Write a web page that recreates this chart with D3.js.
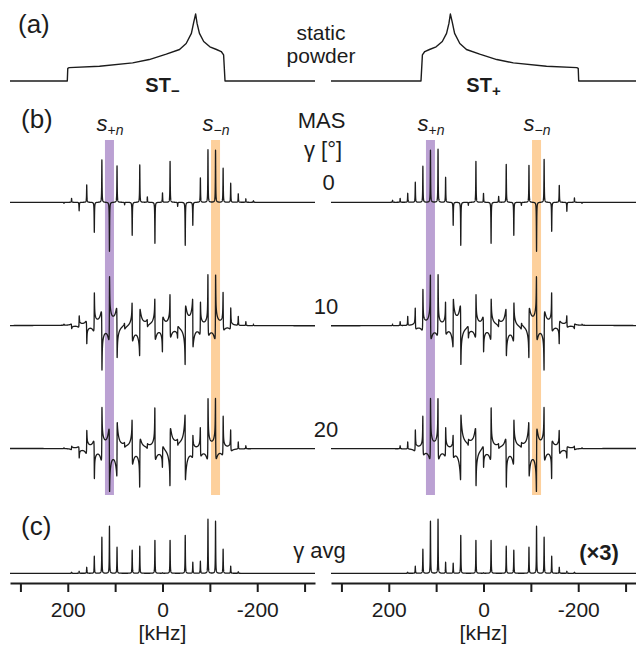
<!DOCTYPE html>
<html>
<head>
<meta charset="utf-8">
<script src="https://cdn.jsdelivr.net/npm/d3@7"></script>
<style>
  html, body { margin: 0; padding: 0; background: #fff; }
  svg { display: block; font-family: "Liberation Sans", Arial, Helvetica, sans-serif; }
</style>
</head>
<body>
<svg id="fig" width="636" height="648"></svg>
<script>
// ---- data -------------------------------------------------------------
const spinRate = 16;                 // MAS rate, kHz (sideband spacing)
const gammaAngles = [0, 10, 20];     // rotor phase of the three MAS traces
const xTicks = [300, 200, 100, 0, -100, -200, -300];
const xTickLabels = { "200": "200", "0": "0", "-200": "-200" };
const markedOrders = [7, -7];        // s+n and s-n sidebands
const markHalfWidth = 9.5;           // kHz

// static powder patterns: [frequency kHz, intensity %]
const staticMinus = [[322,0],[201,0],[200,19],[197,20],[133,22],[63,27],[28,32],[-8,40],[-36,47],[-50,56],[-61,71],[-66,88],[-70,100],[-73,86],[-78,71],[-87,59],[-100,51],[-114,47],[-124,44],[-129,39],[-132,0],[-322,0]];
const staticPlus  = [[322,0],[132,0],[129,39],[124,44],[114,47],[100,51],[87,59],[78,71],[73,86],[70,100],[66,88],[61,71],[50,56],[36,47],[8,40],[-28,32],[-63,27],[-133,22],[-197,20],[-200,19],[-201,0],[-322,0]];

// MAS sidebands: [order n, top, bottom, dispersive tail sign]
const stMinusG0 = [[13,0,-2,0],[12,8,0,0],[11,0,-17,0],[10,35,0,0],[9,0,-60,0],[8,85,0,0],[7,0,-98,0],[6,73,0,0],[5,0,-5,0],[4,0,-66,0],[3,75,0,0],[2,11,0,0],[1,0,-82,0],[0,19,0,0],[-1,82,0,0],[-2,0,-8,0],[-3,0,-86,0],[-4,0,-46,0],[-5,49,0,0],[-6,105,0,0],[-7,104,0,0],[-8,68,0,0],[-9,38,0,0],[-10,17,0,0],[-11,7,0,0],[-12,3,0,0]];
const stMinusG10 = [[13,2,0,0],[12,2,-6,-1],[11,18,-2,1],[10,4,-36,-1],[9,62,-6,1],[8,16,-86,-1],[7,94,-16,1],[6,20,-66,-1],[5,6,-4,-1],[4,50,-16,-1],[3,28,-52,1],[2,6,-6,-1],[1,54,-16,-1],[0,12,-48,1],[-1,62,-12,-1],[-2,4,-16,1],[-3,24,-78,1],[-4,44,-38,-1],[-5,48,-8,1],[-6,104,-6,-1],[-7,102,-12,1],[-8,64,-4,-1],[-9,36,-2,1],[-10,18,0,0],[-11,8,0,0],[-12,3,0,0]];
const stMinusG20 = [[13,2,0,0],[12,4,-2,1],[11,2,-18,-1],[10,34,-6,1],[9,8,-58,-1],[8,78,-14,1],[7,28,-80,-1],[6,48,-44,1],[5,4,-4,-1],[4,56,-20,-1],[3,12,-72,1],[2,4,-4,1],[1,82,-10,-1],[0,6,-30,1],[-1,24,-76,1],[-2,4,-6,-1],[-3,58,-54,-1],[-4,30,-8,1],[-5,44,-6,-1],[-6,98,-10,1],[-7,98,-10,-1],[-8,66,-4,1],[-9,36,-2,-1],[-10,14,0,0],[-11,6,0,0]];
const stMinusAvg = [[12,2],[11,4],[10,12],[9,34],[8,72],[7,94],[6,52],[4,46],[3,54],[1,66],[0,1],[-1,66],[-3,76],[-4,22],[-5,24],[-6,108],[-7,104],[-8,48],[-9,14],[-10,3]];

const stPlusG0 = [[12,4,0,0],[11,8,0,0],[10,18,0,0],[9,40,0,0],[8,72,0,0],[7,104,0,0],[6,106,0,0],[5,50,0,0],[4,0,-46,0],[3,0,-86,0],[2,0,-6,0],[1,82,0,0],[0,18,0,0],[-1,0,-82,0],[-2,12,0,0],[-3,76,0,0],[-4,0,-66,0],[-5,0,-6,0],[-6,74,0,0],[-7,0,-98,0],[-8,86,0,0],[-9,0,-58,0],[-10,34,0,0],[-11,0,-18,0],[-12,9,0,0],[-13,0,-2,0]];
const stPlusG10 = [[12,3,0,0],[11,8,0,0],[10,18,0,0],[9,36,-2,-1],[8,70,-4,1],[7,102,-12,-1],[6,104,-6,1],[5,48,-8,-1],[4,44,-38,1],[3,24,-78,-1],[2,4,-16,-1],[1,62,-12,1],[0,12,-48,-1],[-1,54,-16,1],[-2,6,-6,1],[-3,28,-52,-1],[-4,50,-16,1],[-5,6,-4,1],[-6,20,-66,1],[-7,94,-16,-1],[-8,16,-86,1],[-9,62,-6,-1],[-10,4,-36,1],[-11,18,-2,-1],[-12,2,-6,1],[-13,2,0,0]];
const stPlusG20 = [[11,6,0,0],[10,14,0,0],[9,36,-2,1],[8,66,-4,-1],[7,98,-10,1],[6,98,-10,-1],[5,44,-6,1],[4,30,-8,-1],[3,58,-54,1],[2,4,-6,1],[1,24,-76,-1],[0,6,-30,-1],[-1,82,-10,1],[-2,4,-4,-1],[-3,12,-72,-1],[-4,56,-20,1],[-5,4,-4,1],[-6,48,-44,-1],[-7,28,-80,1],[-8,78,-14,-1],[-9,8,-58,1],[-10,34,-6,-1],[-11,2,-18,1],[-12,4,-2,-1],[-13,2,0,0]];
const stPlusAvg = [[10,2],[9,14],[8,48],[7,104],[6,108],[5,22],[4,20],[3,76],[1,66],[0,1],[-1,66],[-3,54],[-4,46],[-6,52],[-7,94],[-8,72],[-9,34],[-10,12],[-11,4],[-12,2]];

// ---- layout -----------------------------------------------------------
const ink = "#1c1c1c";
const panels = [
  { range: [10, 315],  stat: staticMinus, rows: [stMinusG0, stMinusG10, stMinusG20], avg: stMinusAvg, sub: "\u2212" },
  { range: [331, 636], stat: staticPlus,  rows: [stPlusG0,  stPlusG10,  stPlusG20],  avg: stPlusAvg,  sub: "+" }
];
const staticBase = 81, rowBase = [202.3, 325.7, 448.5], avgBase = 573.3, axisY = 583;
const bandTop = 140, bandBottom = 495;
const markColors = ["#bba1d3", "#fdd09c"];

const svg = d3.select("#fig");
const yStatic = d3.scaleLinear().domain([0, 100]).range([0, -67]);
const yMas = d3.scaleLinear().domain([0, 100]).range([0, -50]);

// sideband lineshape: narrow complex Lorentzian core plus a broad
// dispersive wing that produces the curved baseline between sidebands
const coreW = 0.4, wingK = 0.75, wingR = 2.0; // kHz
function trace(bands) {
  const pts = [];
  for (let i = 3220; i >= -3220; i--) {
    const f = i / 10;
    let s = 0;
    for (const [n, top, bot, tail] of bands) {
      const amp = top - bot;
      if (amp === 0) continue;
      const c = (top + bot) / amp;
      const sn = tail * Math.sqrt(Math.max(0, 1 - c * c));
      const dF = n * spinRate - f;
      const t = dF / coreW;
      s += amp * (c + sn * t) / (1 + t * t);
      if (sn !== 0) s += amp * sn * wingK * dF / (dF * dF + wingR * wingR);
    }
    pts.push([f, s]);
  }
  return pts;
}
const sticks = avg => avg.map(([n, h]) => [n, h, 0, 0]);

panels.forEach((p) => {
  const x = d3.scaleLinear().domain([322, -322]).range(p.range);
  const g = svg.append("g");

  // highlighted sideband columns
  markedOrders.forEach((n, k) => {
    const f = n * spinRate;
    g.append("rect")
      .attr("x", x(f + markHalfWidth)).attr("width", x(f - markHalfWidth) - x(f + markHalfWidth))
      .attr("y", bandTop).attr("height", bandBottom - bandTop)
      .attr("fill", markColors[k]);
  });

  // static powder pattern
  g.append("path")
    .datum(p.stat)
    .attr("transform", `translate(0,${staticBase})`)
    .attr("fill", "none").attr("stroke", ink).attr("stroke-width", 1.4).attr("stroke-linejoin", "round")
    .attr("d", d3.line().x(d => x(d[0])).y(d => yStatic(d[1])));

  const masLine = d3.line().x(d => x(d[0])).y(d => yMas(d[1]));
  p.rows.forEach((bands, r) => {
    g.append("path")
      .datum(trace(bands))
      .attr("transform", `translate(0,${rowBase[r]})`)
      .attr("fill", "none").attr("stroke", ink).attr("stroke-width", 1.3).attr("stroke-linejoin", "round")
      .attr("d", masLine);
  });
  g.append("path")
    .datum(trace(sticks(p.avg)))
    .attr("transform", `translate(0,${avgBase})`)
    .attr("fill", "none").attr("stroke", ink).attr("stroke-width", 1.3).attr("stroke-linejoin", "round")
    .attr("d", masLine);

  // frequency axis
  const ax = g.append("g")
    .attr("transform", `translate(0,${axisY})`)
    .call(d3.axisBottom(x).tickValues(xTicks).tickSize(9).tickSizeOuter(0).tickPadding(10)
      .tickFormat(v => xTickLabels[String(v)] || ""));
  ax.select(".domain").attr("stroke", ink).attr("stroke-width", 2);
  ax.selectAll(".tick line").attr("stroke", ink).attr("stroke-width", 2);
  ax.selectAll(".tick text").attr("fill", ink).attr("font-size", 21).attr("font-family", "Liberation Sans, Arial, sans-serif");

  g.append("text").attr("x", x(0)).attr("y", 640).attr("text-anchor", "middle")
    .attr("font-size", 21).attr("fill", ink).text("[kHz]");

  // ST label
  const st = g.append("text").attr("x", x(0)).attr("y", 92).attr("text-anchor", "middle")
    .attr("font-size", 20).attr("font-weight", "bold").attr("fill", ink);
  st.append("tspan").text("ST");
  st.append("tspan").attr("font-size", 15).attr("dy", 4).text(p.sub);

  // s+n / s-n labels
  markedOrders.forEach((n) => {
    const t = g.append("text").attr("x", x(n * spinRate) + 0.5).attr("y", 131)
      .attr("text-anchor", "middle").attr("fill", ink).attr("font-size", 22);
    t.append("tspan").attr("font-style", "italic").text("s");
    t.append("tspan").attr("font-size", 14).attr("dy", 4).text(n > 0 ? "+" : "\u2212");
    t.append("tspan").attr("font-size", 14).attr("font-style", "italic").text("n");
  });
});

// centre and panel labels
const lab = (txt, x, y, opts = {}) => svg.append("text")
  .attr("x", x).attr("y", y).attr("fill", ink)
  .attr("font-size", opts.size || 22)
  .attr("font-weight", opts.weight || "normal")
  .attr("text-anchor", opts.anchor || "middle")
  .text(txt);

lab("(a)", 18, 33, { size: 26, anchor: "start" });
lab("(b)", 21, 128, { size: 26, anchor: "start" });
lab("(c)", 21, 535, { size: 26, anchor: "start" });
lab("static", 321, 40, { size: 21 });
lab("powder", 321, 62.5, { size: 21 });
lab("MAS", 321.5, 128);
lab("\u03b3 [\u00b0]", 323, 157);
gammaAngles.forEach((gm, i) => lab(String(gm), gm === 0 ? 328.5 : 326, rowBase[i] - 12));
lab("\u03b3 avg", 319.5, 558);
lab("(\u00d73)", 599, 560, { weight: "bold" });
</script>
</body>
</html>
